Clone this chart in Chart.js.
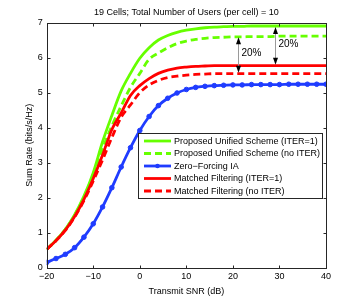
<!DOCTYPE html>
<html>
<head>
<meta charset="utf-8">
<script src="https://cdn.jsdelivr.net/npm/chart.js@4.4.1/dist/chart.umd.min.js"></script>
<style>
    html, body { margin: 0; padding: 0; background: #fff; }
    #wrap { width: 360px; height: 302px; position: relative; }
</style>
</head>
<body>
<div id="wrap"><canvas id="chart"></canvas></div>
<script>
// Chart data
const snr = [-20, -18, -16, -14, -12, -10, -8, -6, -4, -2, 0, 2, 4, 6, 8, 10,
    12, 14, 16, 18, 20, 22, 24, 26, 28, 30, 32, 34, 36, 38, 40];

const proposedIter = [0.53, 0.79, 1.10, 1.52, 2.05, 2.72, 3.60, 4.35, 5.05, 5.55, 5.98, 6.28, 6.50, 6.63, 6.72, 6.78,
    6.82, 6.85, 6.87, 6.88, 6.89, 6.89, 6.90, 6.90, 6.90, 6.90, 6.90, 6.90, 6.90, 6.90, 6.90];
const proposedNoIter = [0.53, 0.79, 1.10, 1.50, 2.02, 2.66, 3.40, 4.05, 4.62, 5.15, 5.55, 5.95, 6.13, 6.28, 6.40, 6.47,
    6.52, 6.55, 6.57, 6.58, 6.59, 6.59, 6.60, 6.60, 6.60, 6.61, 6.61, 6.61, 6.61, 6.61, 6.61];
const zeroForcing = [0.16, 0.27, 0.39, 0.58, 0.88, 1.26, 1.74, 2.29, 2.88, 3.43, 3.92, 4.32, 4.63, 4.84, 4.99, 5.09,
    5.15, 5.18, 5.20, 5.21, 5.22, 5.22, 5.23, 5.23, 5.23, 5.23, 5.24, 5.24, 5.24, 5.24, 5.24];
const mfIter = [0.53, 0.78, 1.08, 1.47, 1.96, 2.55, 3.22, 3.95, 4.42, 4.92, 5.20, 5.40, 5.55, 5.64, 5.70, 5.73,
    5.75, 5.76, 5.77, 5.77, 5.77, 5.77, 5.77, 5.77, 5.77, 5.77, 5.77, 5.77, 5.77, 5.77, 5.77];
const mfNoIter = [0.53, 0.78, 1.07, 1.45, 1.92, 2.48, 3.08, 3.72, 4.30, 4.65, 5.00, 5.22, 5.35, 5.43, 5.47, 5.50,
    5.52, 5.53, 5.54, 5.54, 5.54, 5.54, 5.54, 5.54, 5.54, 5.54, 5.54, 5.54, 5.54, 5.54, 5.54];

const xTicks = [-20, -10, 0, 10, 20, 30, 40];
const yTicks = [0, 1, 2, 3, 4, 5, 6, 7];

// gain arrows: [x, from, to]
const arrowX = [21, 29];
const arrowTop = [6.61, 6.90];
const arrowBottom = [5.54, 5.77];
const arrowText = ['20%', '20%'];

const titleText = '19 Cells; Total Number of Users (per cell) = 10';
const xTitle = 'Transmit SNR (dB)';
const yTitle = 'Sum Rate (bits/s/Hz)';

const FONT = '"Liberation Sans", Arial, sans-serif';
const GREEN = '#66ff00';
const BLUE = '#1f3cff';
const RED = '#ff0000';
const DASH = [7, 4];

function toPoints(values) {
    return snr.map((x, i) => ({ x: x, y: values[i] }));
}

const datasets = [
    { label: 'Proposed Unified Scheme (ITER=1)', data: toPoints(proposedIter), borderColor: GREEN, borderWidth: 2.8, pointRadius: 0, order: 5 },
    { label: 'Proposed Unified Scheme (no ITER)', data: toPoints(proposedNoIter), borderColor: GREEN, borderWidth: 2.8, borderDash: DASH, pointRadius: 0, order: 4 },
    { label: 'Zero\u2212Forcing IA', data: toPoints(zeroForcing), borderColor: BLUE, borderWidth: 2.8, pointRadius: 2.3, pointBackgroundColor: BLUE, pointBorderColor: BLUE, pointBorderWidth: 1, order: 3 },
    { label: 'Matched Filtering (ITER=1)', data: toPoints(mfIter), borderColor: RED, borderWidth: 2.8, pointRadius: 0, order: 2 },
    { label: 'Matched Filtering (no ITER)', data: toPoints(mfNoIter), borderColor: RED, borderWidth: 2.8, borderDash: DASH, pointRadius: 0, order: 1 }
];
datasets.forEach(d => { d.fill = false; d.tension = 0.3; d.cubicInterpolationMode = 'monotone'; });

/**
 * Draws the MATLAB-like frame: box, inner ticks, title, axis labels,
 * the in-plot legend and the 20% arrows
 */
const framePlugin = {
    id: 'frame',
    afterDatasetsDraw: function(chart) {
        const ctx = chart.ctx;
        const area = chart.chartArea;
        const xs = chart.scales.x;
        const ys = chart.scales.y;
        ctx.save();

        // arrows
        arrowX.forEach((ax, i) => {
            const px = Math.round(xs.getPixelForValue(ax)) + 0.5;
            const top = ys.getPixelForValue(arrowTop[i]);
            const bot = ys.getPixelForValue(arrowBottom[i]);
            ctx.strokeStyle = '#9a9a9a';
            ctx.lineWidth = 1;
            ctx.beginPath();
            ctx.moveTo(px, top + 4);
            ctx.lineTo(px, bot - 4);
            ctx.stroke();
            ctx.fillStyle = '#000';
            ctx.beginPath();
            ctx.moveTo(px, top + 1);
            ctx.lineTo(px - 2.5, top + 8);
            ctx.lineTo(px + 2.5, top + 8);
            ctx.closePath();
            ctx.fill();
            ctx.beginPath();
            ctx.moveTo(px, bot - 1);
            ctx.lineTo(px - 2.5, bot - 8);
            ctx.lineTo(px + 2.5, bot - 8);
            ctx.closePath();
            ctx.fill();
            ctx.font = '10px ' + FONT;
            ctx.textAlign = 'left';
            ctx.textBaseline = 'middle';
            ctx.fillText(arrowText[i], px + 3, (top + bot) / 2 - 2);
        });

        // box and inner ticks
        ctx.strokeStyle = '#262626';
        ctx.lineWidth = 1;
        const l = Math.round(area.left) + 0.5, r = Math.round(area.right) + 0.5;
        const t = Math.round(area.top) + 0.5, b = Math.round(area.bottom) + 0.5;
        ctx.strokeRect(l, t, r - l, b - t);
        ctx.beginPath();
        xTicks.forEach(v => {
            const px = Math.round(xs.getPixelForValue(v)) + 0.5;
            ctx.moveTo(px, b); ctx.lineTo(px, b - 3);
            ctx.moveTo(px, t); ctx.lineTo(px, t + 3);
        });
        yTicks.forEach(v => {
            const py = Math.round(ys.getPixelForValue(v)) + 0.5;
            ctx.moveTo(l, py); ctx.lineTo(l + 3, py);
            ctx.moveTo(r, py); ctx.lineTo(r - 3, py);
        });
        ctx.stroke();

        // texts
        ctx.fillStyle = '#000';
        ctx.font = '9px ' + FONT;
        ctx.textAlign = 'center';
        ctx.textBaseline = 'middle';
        ctx.fillText(titleText, (area.left + area.right) / 2, 13);
        ctx.fillText(xTitle, (area.left + area.right) / 2, 292);
        ctx.translate(30, (area.top + area.bottom) / 2);
        ctx.rotate(-Math.PI / 2);
        ctx.fillText(yTitle, 0, 0);
        ctx.setTransform(1, 0, 0, 1, 0, 0);

        // legend
        const lx = 138.5, ly = 133.5, lw = 184, lh = 65;
        ctx.fillStyle = '#fff';
        ctx.fillRect(lx, ly, lw, lh);
        ctx.strokeStyle = '#262626';
        ctx.strokeRect(lx, ly, lw, lh);
        ctx.textAlign = 'left';
        datasets.forEach((d, i) => {
            const y = 141 + i * 12.5;
            ctx.strokeStyle = d.borderColor;
            ctx.lineWidth = 2.8;
            ctx.setLineDash(d.borderDash || []);
            ctx.beginPath();
            ctx.moveTo(144, y);
            ctx.lineTo(171, y);
            ctx.stroke();
            ctx.setLineDash([]);
            if (d.pointRadius) {
                ctx.fillStyle = d.borderColor;
                ctx.beginPath();
                ctx.arc(157.5, y, 2.3, 0, Math.PI * 2);
                ctx.fill();
            }
            ctx.fillStyle = '#000';
            ctx.fillText(d.label, 174, y + 0.5);
        });
        ctx.restore();
    }
};

new Chart(document.getElementById('chart'), {
    type: 'line',
    data: { datasets: datasets },
    options: {
        responsive: true,
        maintainAspectRatio: false,
        animation: false,
        layout: { padding: { left: 0, top: 22.5, right: 34, bottom: 0 } },
        scales: {
            x: {
                type: 'linear',
                min: -20,
                max: 40,
                afterFit: scale => { scale.height = 34; },
                afterBuildTicks: scale => { scale.ticks = xTicks.map(v => ({ value: v })); },
                grid: { display: false, drawTicks: false },
                border: { display: false },
                ticks: {
                    padding: 3,
                    color: '#000',
                    font: { family: FONT, size: 9 },
                    maxRotation: 0,
                    callback: v => String(v).replace('-', '\u2212')
                }
            },
            y: {
                type: 'linear',
                min: 0,
                max: 7,
                afterFit: scale => { scale.width = 46.7; },
                afterBuildTicks: scale => { scale.ticks = yTicks.map(v => ({ value: v })); },
                grid: { display: false, drawTicks: false },
                border: { display: false },
                ticks: {
                    padding: 4,
                    color: '#000',
                    font: { family: FONT, size: 9 }
                }
            }
        },
        plugins: {
            legend: { display: false },
            tooltip: { enabled: false },
            title: { display: false }
        }
    },
    plugins: [framePlugin]
});
</script>
</body>
</html>
